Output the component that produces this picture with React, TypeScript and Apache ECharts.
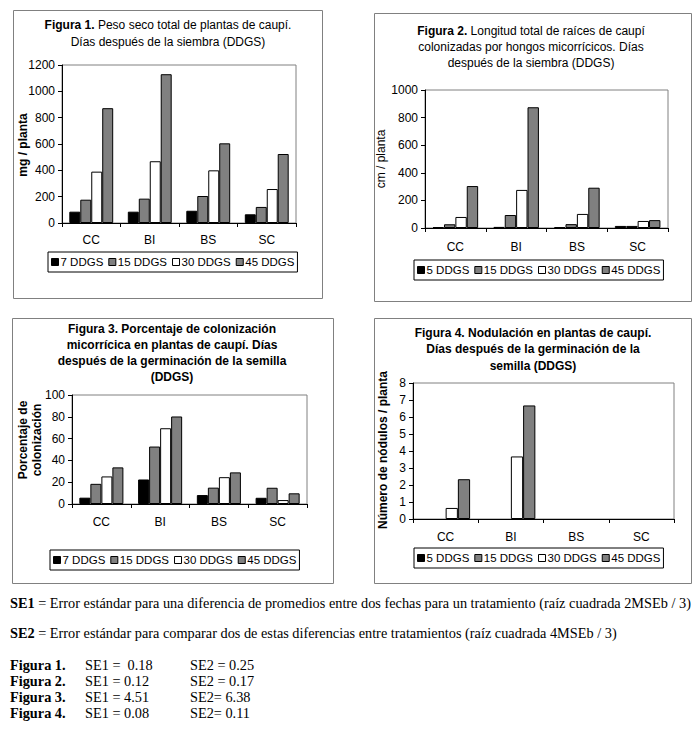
import React, { useEffect, useRef } from "react";
import * as echarts from "echarts";

const categories = ["CC", "BI", "BS", "SC"];
const fig1Names = ["7 DDGS", "15 DDGS", "30 DDGS", "45 DDGS"];
const fig2Names = ["5 DDGS", "15 DDGS", "30 DDGS", "45 DDGS"];
const fig3Names = ["7 DDGS", "15 DDGS", "30 DDGS", "45 DDGS"];
const fig4Names = ["5 DDGS", "15 DDGS", "30 DDGS", "45 DDGS"];

// Figura 1: mg / planta
const fig1_7 = [86, 86, 93, 66];
const fig1_15 = [177, 185, 205, 122];
const fig1_30 = [390, 469, 400, 258];
const fig1_45 = [872, 1130, 605, 524];
// Figura 2: cm / planta
const fig2_5 = [7, 8, 6, 15];
const fig2_15 = [27, 94, 28, 15];
const fig2_30 = [80, 276, 102, 51];
const fig2_45 = [304, 875, 292, 57];
// Figura 3: porcentaje de colonización
const fig3_7 = [5.8, 22.5, 8.2, 5.7];
const fig3_15 = [18.5, 52.7, 15, 14.9];
const fig3_30 = [25.3, 69.5, 24.6, 3.6];
const fig3_45 = [33.6, 80.3, 29, 9.8];
// Figura 4: nódulos / planta
const fig4_5 = [0, 0, 0, 0];
const fig4_15 = [0, 0, 0, 0];
const fig4_30 = [0.65, 3.68, 0, 0];
const fig4_45 = [2.34, 6.68, 0, 0];

const yMax = [1200, 1000, 100, 8];
const yInterval = [200, 200, 20, 1];

const seriesColors = ["#000000", "#808080", "#ffffff", "#808080"];

const SANS = '"Liberation Sans", Arial, sans-serif';
const SERIF = '"Liberation Serif", "Times New Roman", serif';

export default function App() {
  const ref = useRef<HTMLDivElement>(null);

  useEffect(() => {
    if (!ref.current) return;
    const chart = echarts.init(ref.current, undefined, { renderer: "svg" });

    const figData = [
      { names: fig1Names, values: [fig1_7, fig1_15, fig1_30, fig1_45] },
      { names: fig2Names, values: [fig2_5, fig2_15, fig2_30, fig2_45] },
      { names: fig3Names, values: [fig3_7, fig3_15, fig3_30, fig3_45] },
      { names: fig4Names, values: [fig4_5, fig4_15, fig4_30, fig4_45] },
    ];

    // layout
    const grids = [
      { left: 62, top: 65, width: 234, height: 158 },
      { left: 425, top: 90, width: 243, height: 138 },
      { left: 72, top: 395, width: 235, height: 109 },
      { left: 413, top: 383, width: 261, height: 136 },
    ];
    const labelMargins = [11, 13, 12, 12];
    const legendPos = [
      { left: 48, top: 252 },
      { left: 414, top: 260 },
      { left: 50, top: 550 },
      { left: 414, top: 548 },
    ];
    const panels = [
      { x: 13, y: 10, w: 309, h: 288 },
      { x: 374, y: 13, w: 317, h: 288 },
      { x: 12, y: 318, w: 321, h: 265 },
      { x: 374, y: 318, w: 317, h: 265 },
    ];

    const series: any[] = [];
    figData.forEach((f, gi) => {
      f.values.forEach((vals, si) => {
        series.push({
          type: "bar",
          name: f.names[si],
          xAxisIndex: gi,
          yAxisIndex: gi,
          data: vals.map((v) =>
            v === 0 ? { value: v, itemStyle: { borderWidth: 0 } } : v
          ),
          barGap: "0%",
          barCategoryGap: "25%",
          itemStyle: {
            color: seriesColors[si],
            borderColor: "#000",
            borderWidth: 1,
          },
          emphasis: { disabled: true },
        });
      });
    });

    const xAxis = grids.map((_, gi) => ({
      type: "category",
      gridIndex: gi,
      data: categories,
      axisLine: { lineStyle: { color: "#000", width: 1 } },
      axisTick: { show: true, length: 4, lineStyle: { color: "#000" } },
      axisLabel: {
        color: "#000",
        fontSize: 12,
        fontFamily: SANS,
        margin: labelMargins[gi],
      },
      splitLine: { show: false },
      z: 5,
    }));

    const yAxis = grids.map((_, gi) => ({
      type: "value",
      gridIndex: gi,
      min: 0,
      max: yMax[gi],
      interval: yInterval[gi],
      axisLine: { show: true, lineStyle: { color: "#000", width: 1 } },
      axisTick: { show: true, length: 4, lineStyle: { color: "#000" } },
      axisLabel: {
        color: "#000",
        fontSize: 12,
        fontFamily: SANS,
        margin: 7,
        formatter: (v: number) => String(v),
      },
      splitLine: { show: false },
    }));

    const legend = figData.map((f, gi) => ({
      data: f.names,
      left: legendPos[gi].left,
      top: legendPos[gi].top,
      orient: "horizontal",
      icon: "rect",
      itemWidth: 7,
      itemHeight: 7,
      itemGap: 5,
      padding: [4, 3, 4, 3],
      borderColor: "#000",
      borderWidth: 1,
      selectedMode: false,
      itemStyle: { borderColor: "#000", borderWidth: 1 },
      textStyle: {
        color: "#000",
        fontSize: 11.5,
        fontFamily: SANS,
        padding: [0, 0, 0, -3],
      },
    }));

    const txt = (x: number, y: number, text: string, opts: any = {}) => ({
      type: "text",
      x,
      y,
      rotation: opts.rotation || 0,
      silent: true,
      style: {
        text,
        fill: "#000",
        fontSize: opts.fontSize || 12,
        fontFamily: opts.fontFamily || SANS,
        fontWeight: opts.fontWeight || "normal",
        align: opts.align || "center",
        verticalAlign: "middle",
        lineHeight: opts.lineHeight,
        rich: {
          b: {
            fontWeight: "bold",
            fontSize: opts.fontSize || 12,
            fontFamily: opts.fontFamily || SANS,
          },
        },
      },
    });

    const graphic: any[] = [];
    panels.forEach((p) => {
      graphic.push({
        type: "rect",
        shape: { x: p.x + 0.5, y: p.y + 0.5, width: p.w, height: p.h },
        silent: true,
        z: -1,
        style: { fill: "#fff", stroke: "#808080", lineWidth: 1 },
      });
    });

    // titles
    graphic.push(txt(168, 25, "{b|Figura 1.} Peso seco total de plantas de caupí."));
    graphic.push(txt(168, 42, "Días después de la siembra (DDGS)"));

    graphic.push(txt(531, 31, "{b|Figura 2.} Longitud total de raíces de caupí"));
    graphic.push(txt(531, 47, "colonizadas por hongos micorrícicos. Días"));
    graphic.push(txt(531, 63, "después de la siembra (DDGS)"));

    graphic.push(txt(172, 329, "Figura 3. Porcentaje de colonización", { fontWeight: "bold" }));
    graphic.push(txt(172, 345, "micorrícica en plantas de caupí. Días", { fontWeight: "bold" }));
    graphic.push(txt(172, 361, "después de la germinación de la semilla", { fontWeight: "bold" }));
    graphic.push(txt(172, 377, "(DDGS)", { fontWeight: "bold" }));

    graphic.push(txt(533, 333, "Figura 4. Nodulación en plantas de caupí.", { fontWeight: "bold" }));
    graphic.push(txt(533, 349, "Días después de la germinación de la", { fontWeight: "bold" }));
    graphic.push(txt(533, 366, "semilla (DDGS)", { fontWeight: "bold" }));

    // y-axis names
    graphic.push(txt(23, 145, "mg / planta", { rotation: Math.PI / 2, fontWeight: "bold" }));
    graphic.push(txt(381, 159, "cm / planta", { rotation: Math.PI / 2 }));
    graphic.push(
      txt(30, 440, "Porcentaje de\ncolonización", {
        rotation: Math.PI / 2,
        fontWeight: "bold",
        lineHeight: 14,
      })
    );
    graphic.push(
      txt(383, 450, "Número de nódulos / planta", { rotation: Math.PI / 2, fontWeight: "bold" })
    );

    // footnotes
    const fs = { fontFamily: SERIF, fontSize: 14.3, align: "left" };
    graphic.push(
      txt(
        10,
        603,
        "{b|SE1} = Error estándar para una diferencia de promedios entre dos fechas para un tratamiento (raíz cuadrada 2MSEb / 3)",
        fs
      )
    );
    graphic.push(
      txt(
        10,
        633,
        "{b|SE2} = Error estándar para comparar dos de estas diferencias entre tratamientos (raíz cuadrada 4MSEb / 3)",
        fs
      )
    );
    const rows = [
      ["Figura 1.", "SE1 =  0.18", "SE2 = 0.25"],
      ["Figura 2.", "SE1 = 0.12", "SE2 = 0.17"],
      ["Figura 3.", "SE1 = 4.51", "SE2= 6.38"],
      ["Figura 4.", "SE1 = 0.08", "SE2= 0.11"],
    ];
    const rowY = [665, 681, 697, 713];
    rows.forEach((r, i) => {
      graphic.push(txt(10, rowY[i], r[0], { ...fs, fontWeight: "bold" }));
      graphic.push(txt(85, rowY[i], r[1], fs));
      graphic.push(txt(190, rowY[i], r[2], fs));
    });

    chart.setOption({
      animation: false,
      backgroundColor: "#ffffff",
      grid: grids.map((g) => ({
        ...g,
        show: true,
        backgroundColor: "#ffffff",
        borderColor: "#808080",
        borderWidth: 1,
        containLabel: false,
      })),
      xAxis,
      yAxis,
      legend,
      series,
      graphic,
    });

    return () => chart.dispose();
  }, []);

  return (
    <div
      ref={ref}
      style={{ position: "absolute", left: 0, top: 0, width: 700, height: 730 }}
    />
  );
}
